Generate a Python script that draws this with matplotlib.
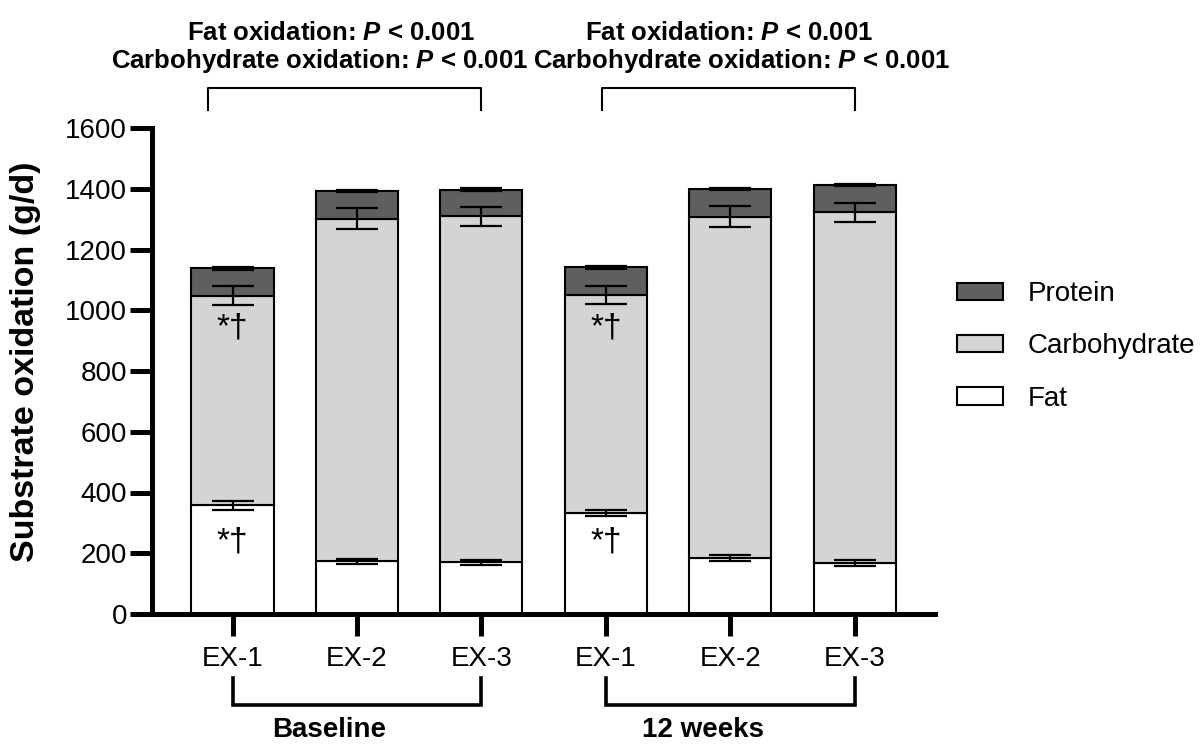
import matplotlib
matplotlib.use("Agg")
import matplotlib.pyplot as plt
import numpy as np

plt.rcParams['font.family'] = ['Liberation Sans', 'DejaVu Sans']
plt.rcParams['mathtext.fontset'] = 'custom'
plt.rcParams['mathtext.it'] = 'Liberation Sans:italic:bold'
plt.rcParams['mathtext.rm'] = 'Liberation Sans:bold'

# data
sessions = ["EX-1", "EX-2", "EX-3", "EX-1", "EX-2", "EX-3"]
groups = ["Baseline", "12 weeks"]
fat = [358, 173, 170, 332, 184, 168]
carb = [690, 1129, 1139, 718, 1124, 1154]
protein = [90, 90, 88, 91, 92, 90]
fat_err = [15, 9, 8, 11, 11, 9]
carb_err = [32, 35, 30, 30, 35, 31]
protein_err = [4, 4, 4, 4, 4, 4]
marked = [0, 3]   # bars with *† marks

x = np.arange(len(sessions))
fat = np.array(fat)
carb_top = fat + np.array(carb)
total = carb_top + np.array(protein)

fig = plt.figure(figsize=(12.02, 7.44), dpi=100)
ax = fig.add_axes([152/1202, 130/744, (935-152)/1202, 486/744])

w = 0.66
kw = dict(width=w, edgecolor='black', linewidth=1.5)
b_fat = ax.bar(x, fat, color='white', label='Fat', **kw)
b_carb = ax.bar(x, carb, bottom=fat, color='#d6d4d2', label='Carbohydrate', **kw)
b_pro = ax.bar(x, protein, bottom=carb_top, color='#5f5f5f', label='Protein', **kw)

ekw = dict(fmt='none', ecolor='black', elinewidth=1.6, capsize=15, capthick=1.6)
ax.errorbar(x, fat, yerr=fat_err, **ekw)
ax.errorbar(x, carb_top, yerr=carb_err, **ekw)
ax.errorbar(x, total, yerr=protein_err, **ekw)

for i in marked:
    ax.text(x[i], 942, "*†", ha='center', va='center', fontsize=24)
    ax.text(x[i], 238, "*†", ha='center', va='center', fontsize=24)

ax.set_ylim(0, 1600)
ax.set_xlim(-0.647, 5.645)
ax.set_yticks(range(0, 1601, 200))
ax.set_xticks(x)
ax.set_xticklabels(sessions)
ax.tick_params(axis='both', labelsize=20, width=3.6, length=16)
ax.tick_params(axis='x', pad=7)
ax.tick_params(axis='y', pad=2)
for s in ['top', 'right']:
    ax.spines[s].set_visible(False)
for s in ['left', 'bottom']:
    ax.spines[s].set_linewidth(3.6)
ax.set_ylabel("Substrate oxidation (g/d)", fontsize=24.5, fontweight='bold', labelpad=17)
ax.yaxis.label.set_y(0.52)

# bottom group brackets
for k, g in enumerate(groups):
    a, b = x[3*k], x[3*k+2]
    ax.plot([a, a, b, b], [-211, -300, -300, -211], color='black', lw=2.6,
            clip_on=False, solid_joinstyle='miter')
    ax.text((a + b) / 2 - 0.22, -382, g, ha='center', va='center',
            fontsize=20, fontweight='bold')

# top comparison brackets
tops = [(-0.2, 2), (2.97, 5)]
line1_x = [0.79, 3.99]
line2_x = [0.70, 4.09]
for k, (a, b) in enumerate(tops):
    ax.plot([a, a, b, b], [1659, 1732, 1732, 1659], color='black', lw=1.5,
            clip_on=False)
    ax.text(line1_x[k], 1891, r"Fat oxidation: $P$ < 0.001", ha='center',
            va='baseline', fontsize=18.5, fontweight='bold')
    ax.text(line2_x[k], 1798, r"Carbohydrate oxidation: $P$ < 0.001", ha='center',
            va='baseline', fontsize=18.5, fontweight='bold')

leg = ax.legend(handles=[b_pro, b_carb, b_fat], frameon=False, fontsize=20,
                loc='upper left', bbox_to_anchor=(957/1202, 1 - 281/744),
                bbox_transform=fig.transFigure, handlelength=1.65,
                handleheight=0.58, labelspacing=0.95, handletextpad=0.9,
                borderpad=0, borderaxespad=0)

fig.savefig("out.png", dpi=100)
